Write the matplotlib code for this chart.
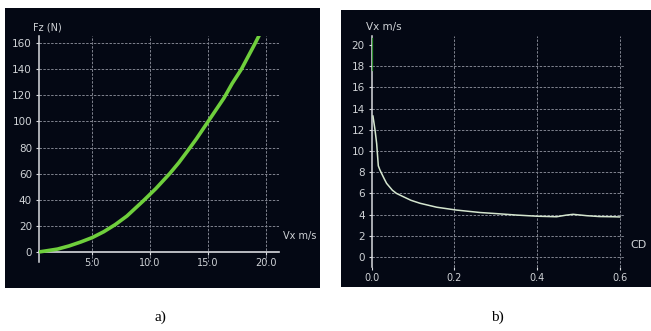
import matplotlib.pyplot as plt
from matplotlib.patches import Rectangle

# panel a): lift force vs speed
vx_a = [0.4, 1.0, 2.0, 3.0, 4.0, 5.0, 6.0, 7.0, 8.0, 9.4, 10.5, 11.7, 12.5,
        13.3, 14.0, 14.8, 15.6, 16.4, 17.1, 17.9, 18.5, 19.1, 19.5]
fz_a = [0.0, 0.8, 2.2, 4.6, 7.6, 11.0, 15.5, 21.0, 27.5, 39.0, 48.5, 60.0, 68.5,
        78.0, 86.5, 97.0, 107.5, 118.0, 129.0, 140.0, 150.0, 160.0, 167.0]
xticks_a = [5.0, 10.0, 15.0, 20.0]
yticks_a = [0, 20, 40, 60, 80, 100, 120, 140, 160]

# panel b): speed vs drag coefficient
cd_b = [0.003, 0.008, 0.012, 0.016, 0.02, 0.025, 0.03, 0.036, 0.05, 0.06, 0.076,
        0.095, 0.117, 0.157, 0.205, 0.262, 0.30, 0.35, 0.40, 0.447, 0.47, 0.487,
        0.52, 0.55, 0.584, 0.60]
vx_b = [13.3, 12.0, 10.7, 8.6, 8.2, 7.8, 7.4, 6.95, 6.3, 6.0, 5.7,
        5.35, 5.07, 4.7, 4.43, 4.2, 4.1, 3.96, 3.85, 3.8, 3.95, 4.03,
        3.9, 3.82, 3.8, 3.78]
cd_top = [0.0, 0.0]
vx_top = [17.6, 20.6]
xticks_b = [0.0, 0.2, 0.4, 0.6]
yticks_b = [0, 2, 4, 6, 8, 10, 12, 14, 16, 18, 20]

W, H = 651, 331
bg = '#040814'
txt = '#cfd2d6'
gridc = '#80838f'

fig = plt.figure(figsize=(W / 100, H / 100), dpi=100)
fig.patch.set_facecolor('white')


def px(x0, y0, x1, y1):
    # pixel box -> figure fraction rect
    return [x0 / W, 1 - y1 / H, (x1 - x0) / W, (y1 - y0) / H]


for box in [(5, 8, 320, 288), (341, 10, 651, 287)]:
    r = px(*box)
    fig.add_artist(Rectangle((r[0], r[1]), r[2], r[3], transform=fig.transFigure,
                             facecolor=bg, edgecolor='none', zorder=0))


def style(ax):
    ax.set_facecolor('none')
    for s in ['top', 'right']:
        ax.spines[s].set_visible(False)
    ax.spines['left'].set_color('#d8dade')
    ax.spines['bottom'].set_color('#d8dade')
    ax.spines['left'].set_linewidth(1.1)
    ax.tick_params(colors='#d8dade', labelcolor=txt, length=2.5, width=0.8)
    ax.tick_params(axis='y', labelsize=7.5, pad=2.5)
    ax.tick_params(axis='x', labelsize=7, pad=1.5)
    ax.grid(True, color=gridc, linestyle=(0, (2.5, 1.5)), linewidth=0.7)


# ---- a)
ax1 = fig.add_axes(px(39, 36, 279, 262.4))
style(ax1)
ax1.plot(vx_a, fz_a, color='#6fcf3c', lw=2.6, solid_capstyle='butt', zorder=3)
ax1.set_xlim(0.4, 21.15)
ax1.set_ylim(-8, 165.4)
ax1.set_xticks(xticks_a)
ax1.set_xticklabels(['%.1f' % v for v in xticks_a])
ax1.set_yticks(yticks_a)
ax1.spines['bottom'].set_position(('data', 0))
ax1.spines['bottom'].set_linewidth(1.2)
ax1.get_ygridlines()[0].set_visible(False)
fig.text(33 / W, 1 - 28 / H, 'Fz (N)', color=txt, fontsize=7, va='center', ha='left')
fig.text(283 / W, 1 - 236 / H, 'Vx m/s', color=txt, fontsize=7, va='center', ha='left')

# ---- b)
ax2 = fig.add_axes(px(371.7, 36, 625, 267))
style(ax2)
ax2.plot(cd_top, vx_top, color='#2f8f2f', lw=1.6, zorder=3)
ax2.plot(cd_b, vx_b, color='#d5e6cf', lw=1.1, zorder=3)
ax2.set_xlim(0, 0.6125)
ax2.set_ylim(-0.94, 20.85)
ax2.set_xticks(xticks_b)
ax2.set_xticklabels(['%.1f' % v for v in xticks_b])
ax2.set_yticks(yticks_b)
ax2.spines['bottom'].set_visible(False)
ax2.get_ygridlines()[-1].set_visible(False)
ax2.get_xgridlines()[0].set_visible(False)
fig.text(366 / W, 1 - 27 / H, 'Vx m/s', color=txt, fontsize=7.5, va='center', ha='left')
fig.text(630 / W, 1 - 245 / H, 'CD', color=txt, fontsize=8, va='center', ha='left')

# captions
fig.text(160 / W, 1 - 317 / H, 'a)', color='black', fontsize=11,
         family='Liberation Serif', ha='center', va='center')
fig.text(497 / W, 1 - 317 / H, 'b)', color='black', fontsize=11,
         family='Liberation Serif', ha='center', va='center')

fig.savefig('out.png', dpi=100, facecolor='white')
